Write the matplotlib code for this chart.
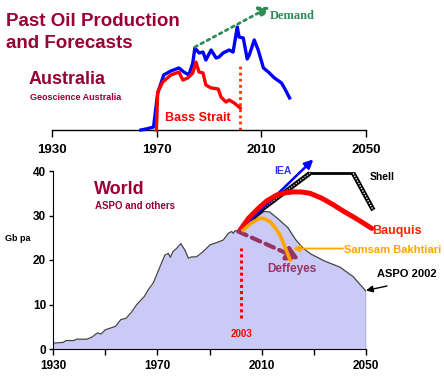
import matplotlib
matplotlib.use("Agg")
import matplotlib.pyplot as plt
from matplotlib import font_manager
import numpy as np

# ---------------- data ----------------
# Australia (kb/d, approximate)
aus_years = [1964, 1966, 1968.8, 1969.6, 1970.4, 1972.7, 1975.4, 1978.5, 1980.4, 1982.3, 1983.8,
             1984.6, 1986.2, 1987.7, 1988.8, 1990.8, 1992.7, 1993.8, 1995.4, 1997.7, 1999.2,
             2000.8, 2001.5, 2003.1, 2004.6, 2005.4, 2007.3, 2008.8, 2010.8, 2012.7, 2015,
             2017.7, 2018.8, 2020.8]
aus_total = [0, 8, 23, 156, 289, 429, 460, 484, 452, 429, 523,
             640, 601, 608, 546, 624, 562, 569, 601, 624, 608,
             803, 725, 718, 554, 585, 702, 624, 484, 452, 406,
             367, 328, 250]
bass_years = [1969.9, 1970.4, 1972.3, 1975.4, 1978.5, 1980, 1981.9, 1983.8, 1985, 1986.2,
              1987.7, 1988.8, 1990.8, 1993.5, 1994.6, 1996.5, 1997.7, 1999.6, 2001.9]
bass_strait = [0, 296, 374, 429, 452, 390, 406, 445, 530, 452,
               445, 351, 328, 320, 257, 218, 234, 211, 172]
demand_years = [1984.6, 2013.1]
demand_vals = [647, 959]
aus_marker_year = 2002
aus_marker_top = 499

# World (Gb per annum)
world_years = [1930, 1934, 1935, 1938, 1939, 1943, 1945, 1947, 1948.5, 1950, 1954, 1956, 1958,
               1960, 1962, 1965, 1966.5, 1968.4, 1969.7, 1971.6, 1972.9, 1974.2, 1975, 1976,
               1977.4, 1979, 1980.6, 1981.9, 1983.1, 1985, 1987.6, 1990.2, 1992.7, 1995.3,
               1997.2, 1998.5, 1999.1, 1999.8, 2001, 2001.7, 2005, 2008, 2011, 2013, 2016,
               2020, 2023, 2026, 2029, 2034, 2040, 2045, 2050]
aspo_2002 = [1.3, 1.5, 1.9, 1.9, 2.2, 2.2, 2.7, 3.6, 3.4, 4.3, 5.1, 6.6, 6.9,
             8.2, 9.9, 11.8, 13.3, 14.8, 16.6, 19.3, 21.1, 21.5, 20.6, 21.9,
             22.6, 23.7, 22.2, 20.4, 20.7, 20.7, 21.9, 23.4, 23.9, 24.5,
             26.0, 26.4, 26.0, 26.6, 26.4, 26.7, 28.3, 29.7, 30.9, 30.8, 29.4,
             27.3, 24.6, 22.6, 21.3, 19.8, 18.4, 16.3, 13.0]

iea_years = [2001.7, 2029.8]
iea_vals = [26.7, 42.6]

shell_rise_years = [2002.5, 2010.6, 2028.5]
shell_rise_vals = [27.2, 31.6, 39.5]
shell_flat_years = [2028.5, 2045.1]
shell_flat_vals = [39.5, 39.5]
shell_fall_years = [2045.1, 2052.8]
shell_fall_vals = [39.5, 31.2]

bauquis_years = [2001.7, 2005, 2008.7, 2012, 2015.8, 2019, 2022.1, 2025, 2028.5, 2033, 2037.5,
                 2041, 2045.1, 2049, 2052.2]
bauquis_vals = [26.7, 29.4, 31.6, 33.3, 34.6, 35.1, 35.3, 35.3, 35.0, 33.9, 32.4,
                31.1, 29.7, 28.3, 27.1]

samsam_years = [2002.9, 2006, 2009.4, 2011, 2013.2, 2015, 2017, 2018.9, 2020.9]
samsam_vals = [26.7, 28.3, 29.4, 29.3, 28.6, 27.4, 25.6, 23.0, 20.0]

deffeyes_years = [2001, 2024.5]
deffeyes_vals = [26.4, 20.2]

marker_2003_year = 2002
marker_2003_range = [6.9, 22.6]

x_ticks = [1930, 1950, 1970, 1990, 2010, 2030, 2050]
x_labels = ["1930", "", "1970", "", "2010", "", "2050"]
top_ticks = [1930, 1970, 2010, 2050]
top_labels = ["1930", "1970", "2010", "2050"]
y_ticks = [0, 10, 20, 30, 40]

# ---------------- figure ----------------
W, H = 444, 376
fig = plt.figure(figsize=(W / 100, H / 100), dpi=100)
fig.patch.set_facecolor("white")
FONT = "Liberation Sans"
installed = {f.name for f in font_manager.fontManager.ttflist}
NARROW = "Liberation Sans Narrow" if "Liberation Sans Narrow" in installed else FONT
TITLE_C = "#990033"

def px(x0, y0, x1, y1):
    return [x0 / W, 1 - y1 / H, (x1 - x0) / W, (y1 - y0) / H]

# ---- top panel (Australia) ----
axt = fig.add_axes(px(52, 0, 366, 130))
axt.set_xlim(1930, 2050)
axt.set_ylim(0, 1014)
axt.patch.set_alpha(0)
for s in ["left", "right", "top"]:
    axt.spines[s].set_visible(False)
axt.spines["bottom"].set_linewidth(1.0)
axt.set_yticks([])
axt.set_xticks(top_ticks)
axt.set_xticklabels(top_labels, fontfamily=FONT, fontweight="bold", fontsize=9.5)
axt.tick_params(axis="x", direction="out", length=5, width=1, pad=5)

axt.plot(aus_years, aus_total, color="#0000ff", lw=2.4, clip_on=False, zorder=3)
axt.plot(bass_years, bass_strait, color="#ff0000", lw=2.4, clip_on=False, zorder=4)
axt.plot([aus_marker_year, aus_marker_year], [0, aus_marker_top], color="#ff3300", lw=2,
         linestyle=(0, (1, 1.2)), clip_on=False)
axt.annotate("", xy=(demand_years[1], demand_vals[1]), xytext=(demand_years[0], demand_vals[0]),
             arrowprops=dict(arrowstyle="-|>,head_length=0.6,head_width=0.35", color="#2e8b57",
                             lw=2, linestyle=(0, (1, 1.5)), shrinkA=0, shrinkB=0),
             annotation_clip=False)

# ---- bottom panel (World) ----
ax = fig.add_axes(px(53, 153.2, 366, 349))
ax.set_xlim(1930, 2050)
ax.set_ylim(0, 44)
ax.patch.set_alpha(0)
for s in ["right", "top"]:
    ax.spines[s].set_visible(False)
ax.spines["left"].set_bounds(0, 40)
ax.set_xticks(x_ticks)
ax.set_xticklabels(x_labels, fontfamily=NARROW, fontweight="bold", fontsize=8.5)
ax.set_yticks(y_ticks)
ax.set_yticklabels([str(v) for v in y_ticks], fontfamily=NARROW, fontweight="bold", fontsize=8.5)
ax.tick_params(axis="x", direction="out", length=4, width=1, pad=4)
ax.tick_params(axis="y", direction="out", length=3, width=1, pad=2)

ax.fill_between(world_years, 0, aspo_2002, color="#cacaf6", zorder=1, lw=0)
ax.plot(world_years, aspo_2002, color="#444444", lw=0.9, zorder=2)
ax.plot([world_years[-1], world_years[-1]], [0, aspo_2002[-1]], color="#444444", lw=0.9, zorder=2)

ax.plot([marker_2003_year, marker_2003_year], marker_2003_range, color="#ff0000", lw=2.2,
        linestyle=(0, (1, 1)), zorder=3)

# Shell (hatched black)
ax.plot(shell_rise_years, shell_rise_vals, color="black", lw=3.4, zorder=4, clip_on=False, solid_capstyle="butt")
ax.plot(shell_rise_years, shell_rise_vals, color="#bbbbbb", lw=1.0, linestyle=(0, (1, 1)), zorder=5, clip_on=False)
ax.plot(shell_flat_years, shell_flat_vals, color="black", lw=2.0, zorder=4, clip_on=False)
ax.plot(shell_fall_years, shell_fall_vals, color="black", lw=3.4, zorder=4, clip_on=False, solid_capstyle="butt")
ax.plot(shell_fall_years, shell_fall_vals, color="white", lw=1.0, linestyle=(0, (1, 1)), zorder=5, clip_on=False)

# IEA arrow
ax.annotate("", xy=(iea_years[1], iea_vals[1]), xytext=(iea_years[0], iea_vals[0]),
            arrowprops=dict(arrowstyle="-|>,head_length=0.5,head_width=0.25", color="#0000ff",
                            lw=1.8, shrinkA=0, shrinkB=0), annotation_clip=False, zorder=6)

# Bauquis
ax.plot(bauquis_years, bauquis_vals, color="#ff0000", lw=3.6, zorder=6, clip_on=False, solid_capstyle="round")

# Samsam Bakhtiari
ax.plot(samsam_years, samsam_vals, color="#ffa500", lw=2.6, zorder=7, clip_on=False)

# Deffeyes dashed arrow
ax.annotate("", xy=(deffeyes_years[1], deffeyes_vals[1]), xytext=(deffeyes_years[0], deffeyes_vals[0]),
            arrowprops=dict(arrowstyle="-|>,head_length=0.7,head_width=0.4", color="#993366",
                            lw=3, linestyle=(0, (2.2, 1.4)), shrinkA=0, shrinkB=0),
            annotation_clip=False, zorder=6)

# ---------------- text ----------------
def ftext(x, y, s, size, color="black", weight="bold", family=FONT, ha="left", **kw):
    fig.text(x / W, 1 - y / H, s, fontsize=size, color=color, fontweight=weight,
             fontfamily=family, ha=ha, va="center", **kw)

ftext(6, 21, "Past Oil Production", 13.5, TITLE_C)
ftext(6, 43, "and Forecasts", 13.5, TITLE_C)
ftext(29, 80, "Australia", 13, TITLE_C)
ftext(30, 97, "Geoscience Australia", 6.5, TITLE_C)
ftext(165, 118, "Bass Strait", 9, "#ff0000")
ftext(270, 16, "Demand", 9, "#2e8b57", family="Liberation Serif")

ftext(94, 189, "World", 13, TITLE_C)
ftext(95, 206, "ASPO and others", 7, TITLE_C)
ftext(5, 239, "Gb pa", 6.5, "black")
ftext(274, 171, "IEA", 7.5, "#3333ff")
ftext(370, 177, "Shell", 7.5, "black")
ftext(372, 231, "Bauquis", 9, "#ff2200")
ftext(344, 250, "Samsam Bakhtiari", 8, "#ffa500")
ftext(267, 269, "Deffeyes", 8.5, "#993366")
ftext(231, 334, "2003", 7, "#ff0000", family=NARROW)
ftext(377, 274, "ASPO 2002", 8, "black")

# arrows pointing to labels (figure coords)
fig_tr = fig.transFigure
ax.annotate("", xy=(293 / W, 1 - 248.5 / H), xycoords=fig_tr,
            xytext=(343 / W, 1 - 248.5 / H), textcoords=fig_tr,
            arrowprops=dict(arrowstyle="-|>,head_length=0.4,head_width=0.2", color="#ffa500",
                            lw=1.3, shrinkA=0, shrinkB=0), annotation_clip=False)
ax.annotate("", xy=(366 / W, 1 - 290.5 / H), xycoords=fig_tr,
            xytext=(387 / W, 1 - 286 / H), textcoords=fig_tr,
            arrowprops=dict(arrowstyle="-|>,head_length=0.4,head_width=0.2", color="black",
                            lw=1.0, shrinkA=0, shrinkB=0), annotation_clip=False)

fig.savefig("out.png", dpi=100, facecolor="white")
